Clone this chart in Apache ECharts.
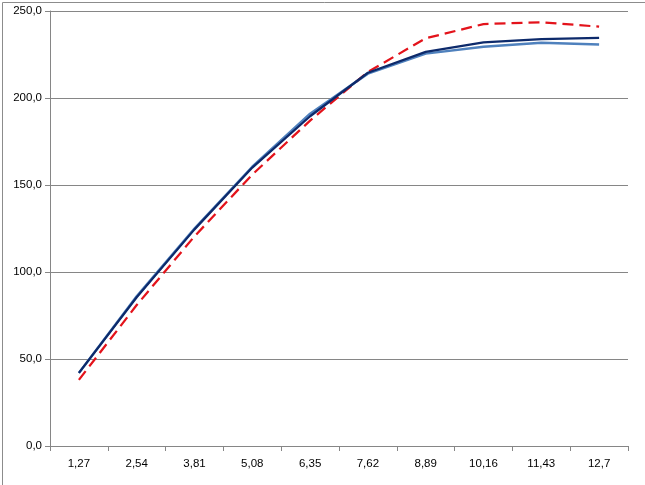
<!DOCTYPE html>
<html><head><meta charset="utf-8">
<script src="https://cdn.jsdelivr.net/npm/echarts@6/dist/echarts.min.js"></script>
<style>html,body{margin:0;padding:0;background:#fff}#c{width:645px;height:485px}</style>
</head><body><div id="c"></div>
<script>
const categories = ['1,27','2,54','3,81','5,08','6,35','7,62','8,89','10,16','11,43','12,7'];
const seriesDark = [42, 85.5, 124.5, 160, 189.5, 214.5, 226.5, 232, 233.8, 234.5];
const seriesLight = [42, 86, 125, 160.5, 191, 214, 225.5, 229.5, 231.8, 230.8];
const seriesRed = [38, 81, 120.5, 156, 187, 215, 234.3, 242.5, 243.5, 241];
const yTicks = {min: 0, max: 250, interval: 50};

const chart = echarts.init(document.getElementById('c'));
const font = 'Liberation Sans';
chart.setOption({
  animation: false,
  backgroundColor: '#fff',
  graphic: [{type:'rect', left:0, top:0, shape:{width:644, height:484}, style:{fill:'none', stroke:'#8c8c8c', lineWidth:1}, silent:true}],
  grid: {left: 50, right: 17, top: 11, bottom: 39},
  xAxis: {
    type: 'category', data: categories, boundaryGap: true,
    axisLine: {lineStyle: {color: '#868686'}},
    axisTick: {show: true, length: 5, lineStyle: {color: '#868686'}},
    axisLabel: {color: '#000', fontFamily: font, fontSize: 11.5, margin: 12},
    splitLine: {show: false}
  },
  yAxis: {
    type: 'value', min: yTicks.min, max: yTicks.max, interval: yTicks.interval,
    axisLine: {show: true, lineStyle: {color: '#868686'}},
    axisTick: {show: true, length: 5, lineStyle: {color: '#868686'}},
    axisLabel: {color: '#000', fontFamily: font, fontSize: 11.5, margin: 8,
      formatter: v => v.toFixed(1).replace('.', ',')},
    splitLine: {lineStyle: {color: '#868686'}}
  },
  series: [
    {type: 'line', data: seriesLight, symbol: 'none', lineStyle: {color: '#4f81bd', width: 2.5}},
    {type: 'line', data: seriesRed, symbol: 'none', lineStyle: {color: '#e3131b', width: 2.25, type: [11, 6]}},
    {type: 'line', data: seriesDark, symbol: 'none', lineStyle: {color: '#0d2a6b', width: 2.25}}
  ]
});
</script></body></html>
